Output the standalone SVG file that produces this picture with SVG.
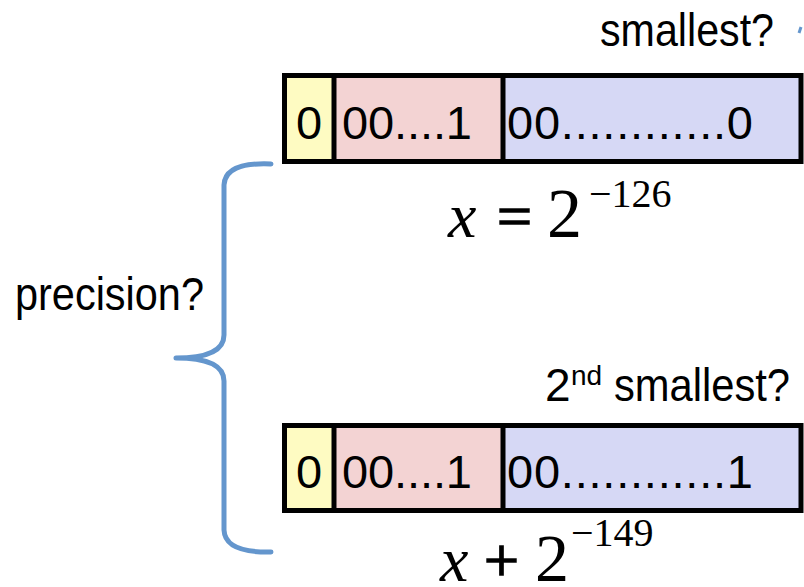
<svg xmlns="http://www.w3.org/2000/svg" width="804" height="587" viewBox="0 0 804 587">
<style>
.lbl{font-family:"Liberation Sans","Open Sans",sans-serif;font-size:46px;fill:#000}
.sup{font-family:"Liberation Sans","Open Sans",sans-serif;font-size:28px;fill:#000}
.bit{font-family:"Liberation Sans","Open Sans",sans-serif;font-size:47px;fill:#000}
.box{stroke:#000;stroke-width:5}
.m{font-family:"Liberation Serif","Times New Roman",serif;fill:#000}
.op{stroke:#000;stroke-width:1.6}
.brace{fill:none;stroke:#6496CD;stroke-width:5;stroke-linecap:round;stroke-linejoin:round}
</style>
<rect width="804" height="587" fill="#fff"/>
<g id="label-smallest">
<text class="lbl" x="600" y="46" textLength="174" lengthAdjust="spacingAndGlyphs">smallest?</text>
<path d="M799 33 L801 27" stroke="#6496CD" stroke-width="3" fill="none"/>
</g>
<g id="word1">
<rect x="284.5" y="75.5" width="49.5" height="86" fill="#FEFBC2"/>
<rect x="334" y="75.5" width="169" height="86" fill="#F3D3D3"/>
<rect x="503" y="75.5" width="298" height="86" fill="#D6D8F5"/>
<rect class="box" x="284.5" y="75.5" width="516.5" height="86" fill="none"/>
<line class="box" x1="334" y1="75.5" x2="334" y2="161.5"/>
<line class="box" x1="503" y1="75.5" x2="503" y2="161.5"/>
<text class="bit" x="296" y="139">0</text>
<text class="bit" x="342" y="139" textLength="130" lengthAdjust="spacing">00....1</text>
<text class="bit" x="507" y="139" textLength="246" lengthAdjust="spacing">00............0</text>
</g>
<g id="math1">
<text class="m" x="448" y="237" font-size="64" font-style="italic">x</text>
<text class="m op" x="497" y="237" font-size="62">=</text>
<text class="m" x="547" y="237" font-size="70">2</text>
<text class="m" x="589" y="207" font-size="40">−126</text>
</g>
<g id="label-precision">
<text class="lbl" x="15" y="310" textLength="189" lengthAdjust="spacingAndGlyphs">precision?</text>
</g>
<g id="connectors">
<path class="brace" d="M271 164 Q225 162 224 185 L224 335 Q224 358 176 358 Q224 358 224 381 L224 530 Q225 553 271 552"/>
</g>
<g id="label-2nd">
<text class="lbl" x="545" y="401">2</text>
<text class="sup" x="571" y="385">nd</text>
<text class="lbl" x="614" y="401" textLength="176" lengthAdjust="spacingAndGlyphs">smallest?</text>
</g>
<g id="word2">
<rect x="284.5" y="425.5" width="49.5" height="85" fill="#FEFBC2"/>
<rect x="334" y="425.5" width="169" height="85" fill="#F3D3D3"/>
<rect x="503" y="425.5" width="298" height="85" fill="#D6D8F5"/>
<rect class="box" x="284.5" y="425.5" width="516.5" height="85" fill="none"/>
<line class="box" x1="334" y1="425.5" x2="334" y2="510.5"/>
<line class="box" x1="503" y1="425.5" x2="503" y2="510.5"/>
<text class="bit" x="296" y="488">0</text>
<text class="bit" x="342" y="488" textLength="130" lengthAdjust="spacing">00....1</text>
<text class="bit" x="507" y="488" textLength="246" lengthAdjust="spacing">00............1</text>
</g>
<g id="math2">
<text class="m" x="440" y="581" font-size="64" font-style="italic">x</text>
<text class="m op" x="484" y="581" font-size="62">+</text>
<text class="m" x="535" y="581" font-size="68">2</text>
<text class="m" x="571" y="546" font-size="40">−149</text>
</g>
</svg>
